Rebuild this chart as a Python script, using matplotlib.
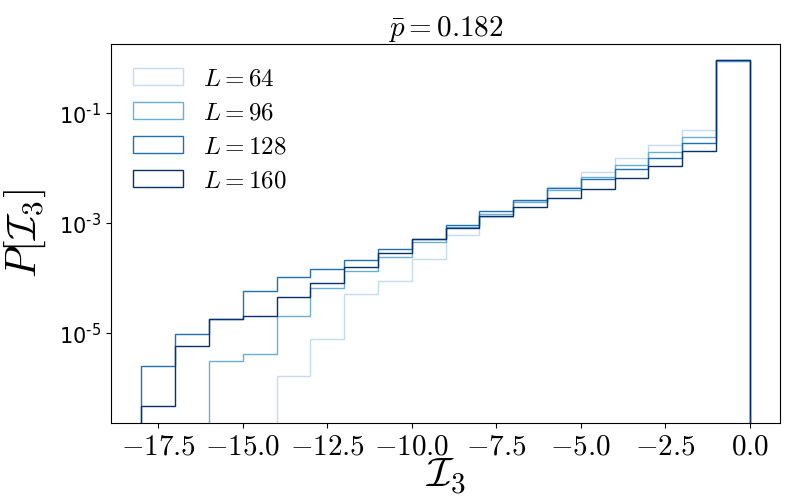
import numpy as np
import matplotlib
matplotlib.use("Agg")
import matplotlib.pyplot as plt
from matplotlib.ticker import FixedLocator, NullLocator, FuncFormatter, MultipleLocator

plt.rcParams["mathtext.fontset"] = "cm"

# bin edges of I_3 and histogram heights (density) per system size
edges = np.arange(-18, 1, 1)
sizes = [64, 96, 128, 160]

p_L64 = [0, 0, 0, 0, 1.7e-6, 7.8e-6, 5.1e-5, 8.9e-5, 2.2e-4, 6.2e-4,
         1.30e-3, 2.5e-3, 4.5e-3, 8.5e-3, 1.52e-2, 2.62e-2, 4.91e-2, 0.893]
p_L96 = [0, 0, 3.2e-6, 4.2e-6, 2.1e-5, 6.6e-5, 1.36e-4, 2.41e-4, 4.5e-4, 8.7e-4,
         1.48e-3, 2.41e-3, 3.98e-3, 6.95e-3, 1.135e-2, 1.95e-2, 3.66e-2, 0.912]
p_L128 = [2.6e-6, 9.8e-6, 1.85e-5, 5.8e-5, 1.05e-4, 1.46e-4, 2.12e-4, 3.37e-4, 5.25e-4, 9.2e-4,
          1.69e-3, 2.69e-3, 4.39e-3, 6.3e-3, 9.7e-3, 1.52e-2, 2.85e-2, 0.93]
p_L160 = [4.8e-7, 6.0e-6, 1.8e-5, 2.1e-5, 4.5e-5, 8.1e-5, 1.58e-4, 2.85e-4, 5.1e-4, 8.1e-4,
          1.36e-3, 1.98e-3, 2.85e-3, 4.15e-3, 6.6e-3, 1.09e-2, 2.04e-2, 0.944]

p_bar = 0.182
ytick_vals = [1e-5, 1e-3, 1e-1]

series = [p_L64, p_L96, p_L128, p_L160]
colors = plt.cm.Blues(np.linspace(0.25, 1.0, len(sizes)))

fig = plt.figure(figsize=(7.92, 5.04), dpi=100)
ax = fig.add_axes([0.140, 0.1607, 0.845, 0.752])

centers = 0.5 * (edges[:-1] + edges[1:])
for L, vals, c in zip(sizes, series, colors):
    ax.hist(centers, bins=edges, weights=vals, histtype="step", color=c,
            linewidth=1.0, label=r"$L = %d$" % L)

ax.set_yscale("log")
ax.set_ylim(10 ** -6.63, 10 ** 0.26)
ax.set_xlim(-18.9, 0.9)

ax.yaxis.set_major_locator(FixedLocator(ytick_vals))
ax.yaxis.set_minor_locator(NullLocator())
# superscript with a plain hyphen, as in the original
ax.yaxis.set_major_formatter(FuncFormatter(
    lambda v, pos: "$\\mathregular{10^{\u2010%d}}$" % abs(round(np.log10(v)))))
ax.xaxis.set_major_locator(MultipleLocator(2.5))
ax.xaxis.set_major_formatter(FuncFormatter(lambda v, pos: r"$%.1f$" % v))

ax.tick_params(axis="x", labelsize=21)
ax.tick_params(axis="y", labelsize=15)

ax.set_xlabel(r"$\mathcal{I}_3$", fontsize=30, labelpad=-4)
ax.set_ylabel(r"$P[\mathcal{I}_3]$", fontsize=30, labelpad=8)
ax.set_title(r"$\bar{p} = %.3f$" % p_bar, fontsize=21)

ax.legend(loc="upper left", frameon=False, fontsize=18, labelspacing=0.4)

fig.savefig("out.png", dpi=100)
